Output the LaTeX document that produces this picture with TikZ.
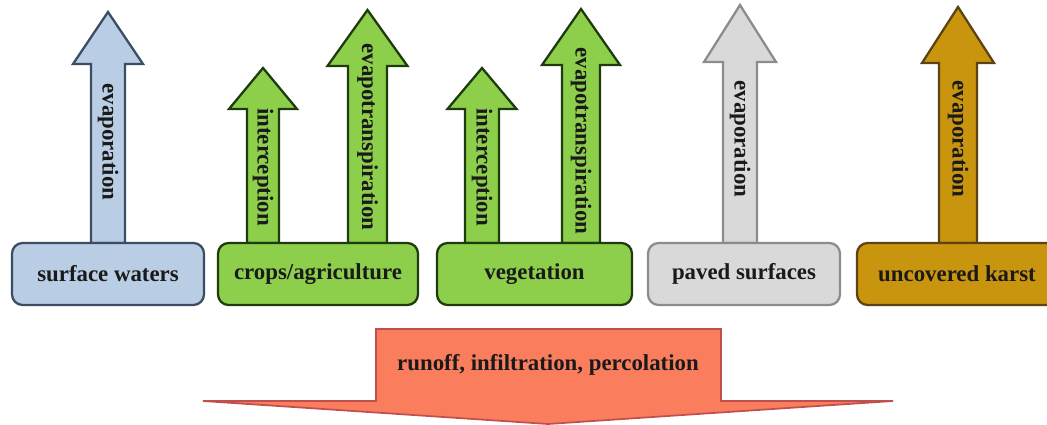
\documentclass[tikz,border=0pt]{standalone}
\usepackage{fontspec}
\setmainfont{Liberation Serif}
\definecolor{blueF}{HTML}{B9CDE5}
\definecolor{blueD}{HTML}{3B4D63}
\definecolor{greenF}{HTML}{8DCF4B}
\definecolor{greenD}{HTML}{1E3B0D}
\definecolor{greyF}{HTML}{D9D9D9}
\definecolor{greyD}{HTML}{8C8C8C}
\definecolor{karstF}{HTML}{C9950F}
\definecolor{karstD}{HTML}{5B4312}
\definecolor{orangeF}{HTML}{FA7E5E}
\definecolor{orangeD}{HTML}{C0504D}
\definecolor{txt}{HTML}{1A1A1A}
\newcommand\fatup[7]{%
  \draw[#7] ({#1-#2},#4) -- ({#1-#2},#5) -- ({#1-#3},#5) -- (#1,#6)
    -- ({#1+#3},#5) -- ({#1+#2},#5) -- ({#1+#2},#4) -- cycle;}
\begin{document}
\begin{tikzpicture}[x=0.02cm,y=-0.02cm,
  lab/.style={font=\fontsize{13}{15}\selectfont\bfseries, text=txt},
  box/.style={lab, draw, rounded corners=6pt, line width=1.3pt, minimum height=1.24cm},
  vlab/.style={lab, rotate=-90, inner sep=0pt},
  arr/.style={line width=1.3pt, line join=miter}]
\useasboundingbox (0,0) rectangle (1047,425);

% arrows
\fatup{108}{17}{35}{243}{64}{12}{arr, draw=blueD, fill=blueF}
\fatup{263}{16}{34}{243}{109}{68}{arr, draw=greenD, fill=greenF}
\fatup{367.5}{19.5}{40}{243}{66}{10}{arr, draw=greenD, fill=greenF}
\fatup{482}{17}{34.5}{243}{109}{68}{arr, draw=greenD, fill=greenF}
\fatup{581}{19}{39}{243}{65}{9}{arr, draw=greenD, fill=greenF}
\fatup{740}{17}{36}{243}{62}{5}{arr, draw=greyD, fill=greyF}
\fatup{958}{19}{36}{243}{63}{7}{arr, draw=karstD, fill=karstF}

\node[vlab] (l1) at (108,142) {evaporation};
\node[vlab] (l2) at (263,167) {interception};
\node[vlab] (l3) at (367.5,137) {evapotranspiration};
\node[vlab] (l4) at (482,167) {interception};
\node[vlab] (l5) at (581,141) {evapotranspiration};
\node[vlab] (l6) at (740,139) {evaporation};
\node[vlab] (l7) at (958,139) {evaporation};

% boxes
\node[box, draw=blueD, fill=blueF, minimum width=3.84cm] (sw) at (108,274) {surface waters};
\node[box, draw=greenD, fill=greenF, minimum width=4.0cm] (crops) at (318,274) {crops/agriculture};
\node[box, draw=greenD, fill=greenF, minimum width=3.9cm] (veg) at (534.5,274) {vegetation};
\node[box, draw=greyD, fill=greyF, minimum width=3.84cm] (paved) at (744,274) {paved surfaces};
\node[box, draw=karstD, fill=karstF, minimum width=4.0cm] (karst) at (957,274) {uncovered karst};

% bottom arrow
\draw[line width=1pt, draw=orangeD, fill=orangeF, line join=miter]
  (376,329) -- (721,329) -- (721,401) -- (893,401) -- (548,424) -- (203,401) -- (376,401) -- cycle;
\node[lab] (flow) at (548,365) {runoff, infiltration, percolation};
\end{tikzpicture}
\end{document}
